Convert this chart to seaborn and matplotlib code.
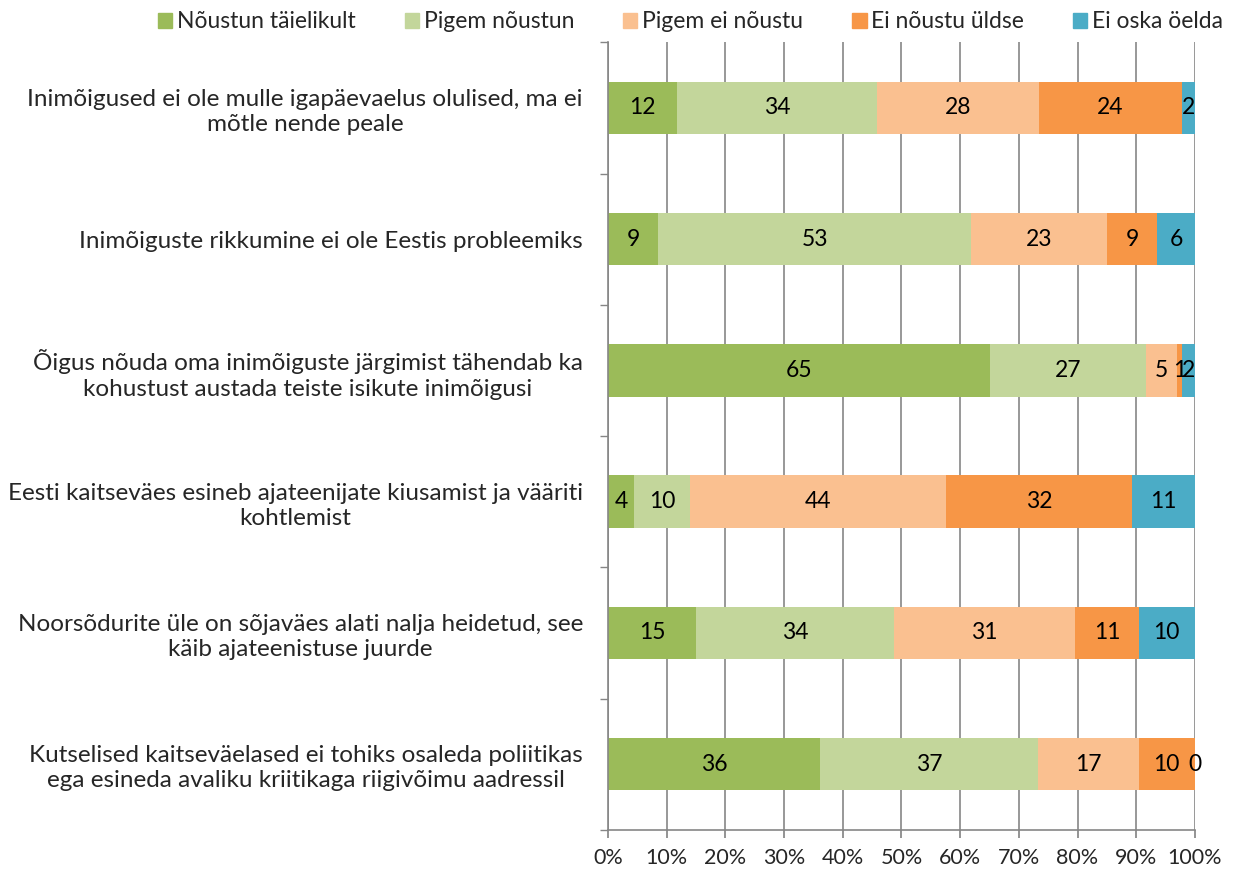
import numpy as np
import pandas as pd
import seaborn as sns
import matplotlib.pyplot as plt

# statements (top to bottom)
statements = [
    "Inimõigused ei ole mulle igapäevaelus olulised, ma ei\nmõtle nende peale",
    "Inimõiguste rikkumine ei ole Eestis probleemiks",
    "Õigus nõuda oma inimõiguste järgimist tähendab ka\nkohustust austada teiste isikute inimõigusi",
    "Eesti kaitseväes esineb ajateenijate kiusamist ja vääriti\nkohtlemist",
    "Noorsõdurite üle on sõjaväes alati nalja heidetud, see\nkäib ajateenistuse juurde",
    "Kutselised kaitseväelased ei tohiks osaleda poliitikas\nega esineda avaliku kriitikaga riigivõimu aadressil",
]
answers = ["Nõustun täielikult", "Pigem nõustun", "Pigem ei nõustu",
           "Ei nõustu üldse", "Ei oska öelda"]
colors = ["#9BBB59", "#C3D69B", "#FAC090", "#F79646", "#4BACC6"]

# percentages per answer (same order as statements)
noustun_taielikult = [11.8, 8.6, 65.1, 4.4, 15.0, 36.2]
pigem_noustun = [34.0, 53.2, 26.6, 9.6, 33.7, 37.1]
pigem_ei_noustu = [27.6, 23.2, 5.2, 43.6, 30.9, 17.1]
ei_noustu_uldse = [24.4, 8.6, 0.9, 31.7, 10.8, 9.6]
ei_oska_oelda = [2.2, 6.4, 2.2, 10.7, 9.6, 0.0]

df = pd.DataFrame({
    "statement": statements,
    answers[0]: noustun_taielikult,
    answers[1]: pigem_noustun,
    answers[2]: pigem_ei_noustu,
    answers[3]: ei_noustu_uldse,
    answers[4]: ei_oska_oelda,
})
cum = df[answers].cumsum(axis=1)

sns.set_theme(style="white")
plt.rcParams["font.family"] = ["Lato", "DejaVu Sans"]

fig = plt.figure(figsize=(12.37, 8.8), dpi=100)
ax = fig.add_axes([0.4915, 0.057, 0.4745, 0.895])

# overlapping cumulative bars, longest first
for ans, col in reversed(list(zip(answers, colors))):
    sns.barplot(x=cum[ans], y=df["statement"], color=col, width=0.4,
                orient="h", ax=ax, saturation=1, linewidth=0, zorder=2)

# segment labels
for i in range(len(df)):
    for ans in answers:
        v = df.loc[i, ans]
        c = cum.loc[i, ans]
        ax.text(c - v / 2, i, f"{v:.0f}", ha="center", va="center",
                fontsize=16.5, color="black", zorder=3)

ax.set_xlim(0, 100)
ax.set_ylim(5.5, -0.5)
ax.set_xlabel("")
ax.set_ylabel("")
ax.set_xticks(np.arange(0, 101, 10))
ax.set_xticklabels([f"{t}%" for t in range(0, 101, 10)], fontsize=15.5)
ax.tick_params(axis="x", direction="out", length=6, color="#868686",
               bottom=True, pad=7)
ax.tick_params(axis="y", which="major", length=0, pad=18, labelsize=17.5)
ax.set_yticks(np.arange(-0.5, 6, 1), minor=True)
ax.tick_params(axis="y", which="minor", length=6, color="#868686", left=True)
for lab in ax.get_yticklabels():
    lab.set_multialignment("center")
    lab.set_linespacing(1.25)

ax.grid(axis="x", color="#868686", linewidth=1.2, zorder=0)
ax.set_axisbelow(True)
for s in ["top", "right"]:
    ax.spines[s].set_visible(False)
for s in ["left", "bottom"]:
    ax.spines[s].set_color("#868686")
    ax.spines[s].set_linewidth(1.2)

handles = [plt.Rectangle((0, 0), 1, 1, color=c) for c in colors]
fig.legend(handles, answers, loc="upper right", bbox_to_anchor=(0.998, 1.0),
           ncol=5, frameon=False, fontsize=16.5, handlelength=0.62,
           handleheight=0.62, handletextpad=0.2, columnspacing=2.15,
           borderaxespad=0.1)

fig.savefig("out.png", dpi=100)
